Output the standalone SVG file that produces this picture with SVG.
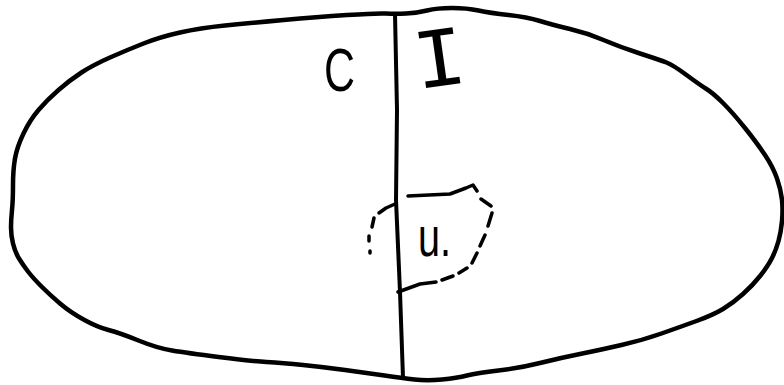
<svg xmlns="http://www.w3.org/2000/svg" width="784" height="385" viewBox="0 0 784 385">
<style>
.ink{fill:none;stroke:#000;stroke-linecap:round;stroke-linejoin:round}
.outline{stroke-width:4.5}
.divider{stroke-width:4}
.dash{stroke-width:3.5}
.lbl{fill:#000;font-family:"Liberation Sans",Arial,sans-serif}
</style>
<rect width="784" height="385" fill="#fff"/>
<g id="outline">
<path class="ink outline" d="M386,13.5 Q395,14 406,13.5 Q417,13 427,10.5 Q437,8 452,8 Q467,8 478.5,10.5 Q490,13 508.5,15 Q527,17 540,21 Q553,25 570,29 Q587,33 603.5,40 Q620,47 640,53.5 Q660,60 666.5,62.5 Q673,65 686.5,75 Q700,85 706.5,89 Q713,93 723,103 Q733,113 745,128 Q757,143 765,155 Q773,167 777,178.5 Q781,190 782,200 Q783,210 782,221 Q781,232 778.5,241 Q776,250 772,258 Q768,266 760.5,275.5 Q753,285 743,294 Q733,303 723,309 Q713,315 696.5,321 Q680,327 661.5,333.5 Q643,340 621.5,345 Q600,350 580,354 Q560,358 540,363 Q520,368 498.5,370.5 Q477,373 467,375.5 Q457,378 442,379.5 Q427,381 414.5,379.5 Q402,378 384.5,375.5 Q367,373 345,370 Q323,367 303,365 Q283,363 266.5,362 Q250,361 218.5,357 Q187,353 172,350.5 Q157,348 138.5,340.5 Q120,333 108.5,330 Q97,327 83.5,319.5 Q70,312 60,303.5 Q50,295 41.5,286.5 Q33,278 28,271.5 Q23,265 19,258.5 Q15,252 13,243.5 Q11,235 11,227.5 Q11,220 12,210 Q13,200 13,185 Q13,170 15,158.5 Q17,147 23.5,133.5 Q30,120 38.5,110 Q47,100 58.5,90 Q70,80 81.5,72.5 Q93,65 110,57.5 Q127,50 143.5,43.5 Q160,37 180,32.5 Q200,28 225,25.5 Q250,23 283.5,20 Q317,17 347,15 Q377,13 386,13.5 Z"/>
</g>
<g id="divider">
<path class="ink divider" d="M395,14 L397,110 L396,200 L400,292 L403,378"/>
</g>
<g id="region-u">
<path class="ink dash" d="M395,204 L386,208 L379,213 M374,218 L372,227 M369,236 L369,241 M370,251 L370,253"/>
<path class="ink dash" d="M408,196 L450,194 L466,188 L473,185 L477,191 M481,199 L491,206 M492,213 L488,226 M485,235 L480,246 M477,253 L472,263 M467,268 L459,273 M453,276 L442,280 M436,282 L420,284 L398,292"/>
<text class="lbl" x="418" y="256" font-size="56" textLength="33" lengthAdjust="spacingAndGlyphs">u.</text>
</g>
<g id="label-C">
<text class="lbl" x="324" y="91" font-size="62" textLength="31" lengthAdjust="spacingAndGlyphs">C</text>
</g>
<g id="label-I">
<text fill="#000" font-family="'Liberation Mono',monospace" x="414" y="86" font-size="86" transform="rotate(-8 440 60)">I</text>
</g>
</svg>
